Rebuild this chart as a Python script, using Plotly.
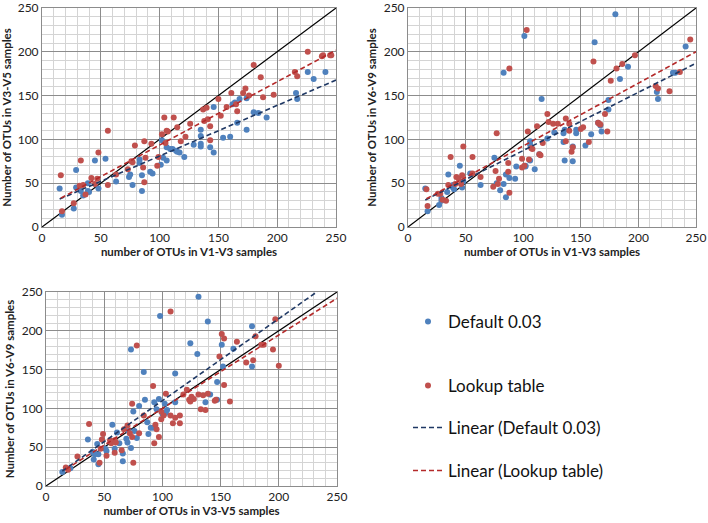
import plotly.graph_objects as go

# ---------------- data ----------------
# Panel 1: V1-V3 (x) vs V3-V5 (y)
p1_def_x = [15,17,27,29,29,33,35,39,39,40,45,48,54,63,74,75,77,83,83,85,85,92,94,102,101,103,106,106,109,111,114,115,117,121,129,135,135,135,135,143,146,146,154,160,162,164,168,174,166,174,180,184,191,216,217,226,231,241]
p1_def_y = [44,14,21,65,45,41,36,50,41,40,76,44,78,52,57,60,48,77,73,59,41,63,61,99,71,79,91,76,89,89,87,86,85,80,94,111,104,95,92,91,137,85,102,103,140,142,146,147,119,111,131,130,125,153,146,177,169,177]
p1_lut_x = [16,17,27,33,32,35,37,42,45,47,48,56,56,63,73,76,77,79,87,86,87,88,93,98,99,102,104,105,106,107,112,115,118,122,126,137,138,140,141,143,143,150,152,157,161,165,166,171,173,176,180,186,188,197,215,217,226,238,239,245,246]
p1_lut_y = [59,18,27,76,47,48,37,56,49,55,85,110,48,60,66,75,74,93,98,68,51,79,95,70,80,106,125,96,110,109,125,114,98,103,118,134,121,136,123,115,99,146,127,137,153,140,132,153,158,150,185,171,148,151,177,172,200,195,196,196,196]

# Panel 2: V1-V3 (x) vs V6-V9 (y)
p2_def_x = [15,17,27,29,29,34,35,39,39,40,45,47,48,54,63,75,77,80,83,83,85,85,88,93,94,101,102,102,106,106,106,110,114,116,121,127,135,135,136,136,143,143,146,146,154,159,162,165,167,168,174,174,180,184,191,216,217,230,232,241]
p2_def_y = [44,18,25,30,33,40,60,48,45,43,70,45,52,61,48,79,50,42,49,176,60,34,56,55,69,218,69,70,98,94,76,66,83,146,101,108,107,97,76,111,92,75,111,107,93,106,211,119,116,109,134,145,243,169,183,154,146,176,176,206]
p2_lut_x = [16,17,26,28,30,33,35,37,41,42,44,46,47,48,56,56,63,74,76,77,78,79,87,87,88,88,99,99,101,103,104,105,107,108,112,114,115,117,121,122,126,130,137,137,140,140,142,143,150,152,157,161,165,166,167,171,173,176,181,186,197,215,217,227,236,245]
p2_lut_y = [43,24,38,38,31,30,48,80,49,57,55,49,59,92,61,80,57,46,64,107,49,55,73,63,181,39,68,78,70,225,109,77,90,89,115,83,82,96,129,120,118,118,98,124,110,118,86,91,112,114,97,189,119,118,117,129,109,167,181,186,196,161,158,155,177,214]

# Panel 3: V3-V5 (x) vs V6-V9 (y)
p3_def_x = [14,21,36,40,41,41,42,44,45,45,51,52,57,59,61,63,66,66,69,70,71,73,73,75,76,78,80,84,85,87,88,90,92,93,95,97,98,100,101,102,103,104,111,111,124,130,131,139,137,141,147,147,151,152,161,177,177]
p3_def_y = [18,23,60,44,42,34,41,54,41,28,48,45,79,48,69,55,32,42,61,56,71,176,49,96,71,62,103,147,111,82,67,75,75,108,99,112,219,93,94,106,94,98,145,108,184,170,244,212,108,118,111,134,182,154,177,206,154]
p3_lut_x = [17,19,27,37,46,47,48,49,52,55,56,59,59,60,65,67,70,72,74,74,75,78,80,84,92,93,94,95,97,99,99,101,103,107,107,109,111,115,115,118,121,123,124,125,127,131,133,135,137,139,145,146,149,151,153,153,158,164,172,178,180,185,187,195,197,200]
p3_lut_y = [24,21,38,80,30,48,60,67,39,59,55,43,59,56,46,73,78,68,63,106,30,181,68,91,129,55,79,73,63,96,86,91,119,225,91,81,88,91,81,118,124,111,109,115,112,118,99,117,98,119,110,111,167,196,190,130,109,186,159,162,193,182,182,176,215,155]

# Linear trendlines as shown in the chart: [slope, intercept]
p1_def_trend = [0.578, 23.2]
p1_lut_trend = [0.722, 21.4]
p2_def_trend = [0.664, 20.9]
p2_lut_trend = [0.717, 20.8]
p3_def_trend = [1.056, 4.4]
p3_lut_trend = [0.946, 5.4]

axis_max = 250
tick_step = 50
minor_step = 10

panels = [
    (p1_def_x, p1_def_y, p1_lut_x, p1_lut_y, p1_def_trend, p1_lut_trend,
     "number of OTUs in V1-V3 samples", "Number of OTUs in V3-V5 samples"),
    (p2_def_x, p2_def_y, p2_lut_x, p2_lut_y, p2_def_trend, p2_lut_trend,
     "number of OTUs in V1-V3 samples", "Number of OTUs in V6-V9 samples"),
    (p3_def_x, p3_def_y, p3_lut_x, p3_lut_y, p3_def_trend, p3_lut_trend,
     "number of OTUs in V3-V5 samples", "Number of OTUs in V6-V9 samples"),
]

BLUE = "#4F81BD"
RED = "#C0504D"
BLUE_T = "#1F3864"
RED_T = "#B42A2A"
FONT = "Lato"

W, H = 708, 523
dom_px = [
    ((42, 336), (8, 227)),
    ((408, 696), (8, 227)),
    ((46, 337), (292, 486)),
]

fig = go.Figure()

for i, (dx, dy, lx, ly, dtr, ltr, xt, yt) in enumerate(panels):
    n = "" if i == 0 else str(i + 1)
    xa, ya = "x" + n, "y" + n
    first = i == 0
    # diagonal y = x
    fig.add_trace(go.Scatter(x=[0, axis_max], y=[0, axis_max], mode="lines", line=dict(color="black", width=1.2),
                             xaxis=xa, yaxis=ya, showlegend=False, hoverinfo="skip"))
    fig.add_trace(go.Scatter(x=dx, y=dy, mode="markers", marker=dict(color=BLUE, size=6),
                             name="Default 0.03", xaxis=xa, yaxis=ya, showlegend=first, legend="legend"))
    fig.add_trace(go.Scatter(x=lx, y=ly, mode="markers", marker=dict(color=RED, size=6),
                             name="Lookup table", xaxis=xa, yaxis=ya, showlegend=first, legend="legend2"))
    for xs, tr, col, nm, lg in [(dx, dtr, BLUE_T, "Linear (Default 0.03)", "legend3"),
                                (lx, ltr, RED_T, "Linear (Lookup table)", "legend4")]:
        k, b = tr
        x0, x1 = min(xs), axis_max
        fig.add_trace(go.Scatter(x=[x0, x1], y=[k * x0 + b, k * x1 + b], mode="lines",
                                 line=dict(color=col, width=1.6, dash="5px,3px"),
                                 name=nm, xaxis=xa, yaxis=ya, showlegend=first, legend=lg))
    (xp0, xp1), (yp0, yp1) = dom_px[i]
    axis_common = dict(range=[0, axis_max], dtick=tick_step, showgrid=True, gridcolor="#8C8C8C", gridwidth=1,
                       minor=dict(dtick=minor_step, showgrid=True, gridcolor="#D4D4D4", gridwidth=1),
                       showline=True, linecolor="#8C8C8C", mirror=True, zeroline=False, automargin=False,
                       ticklabeloverflow="allow",
                       ticks="", tickfont=dict(family=FONT, size=12, color="#222"))
    fig.update_layout({
        ("xaxis" + n): dict(axis_common, domain=[xp0 / W, xp1 / W], anchor=ya,
                            title=dict(text="<b>" + xt + "</b>", font=dict(family=FONT, size=11.5, color="#222"), standoff=2)),
        ("yaxis" + n): dict(axis_common, domain=[1 - yp1 / H, 1 - yp0 / H], anchor=xa,
                            title=dict(text="<b>" + yt + "</b>", font=dict(family=FONT, size=11.5, color="#222"), standoff=4)),
    })

leg_common = dict(font=dict(family=FONT, size=17, color="#111"), bgcolor="rgba(0,0,0,0)",
                  xanchor="left", yanchor="middle", itemwidth=30)
legend_y_px = [322, 386, 428, 471]
fig.update_layout(
    width=W, height=H, margin=dict(l=0, r=0, t=0, b=0),
    plot_bgcolor="white", paper_bgcolor="white",
    legend=dict(leg_common, x=408 / W, y=1 - legend_y_px[0] / H),
    legend2=dict(leg_common, x=408 / W, y=1 - legend_y_px[1] / H),
    legend3=dict(leg_common, x=408 / W, y=1 - legend_y_px[2] / H),
    legend4=dict(leg_common, x=408 / W, y=1 - legend_y_px[3] / H),
)

fig.write_html("out.html", config={"displayModeBar": False},
               post_script="document.body.style.margin='0';document.body.style.overflow='hidden';")
